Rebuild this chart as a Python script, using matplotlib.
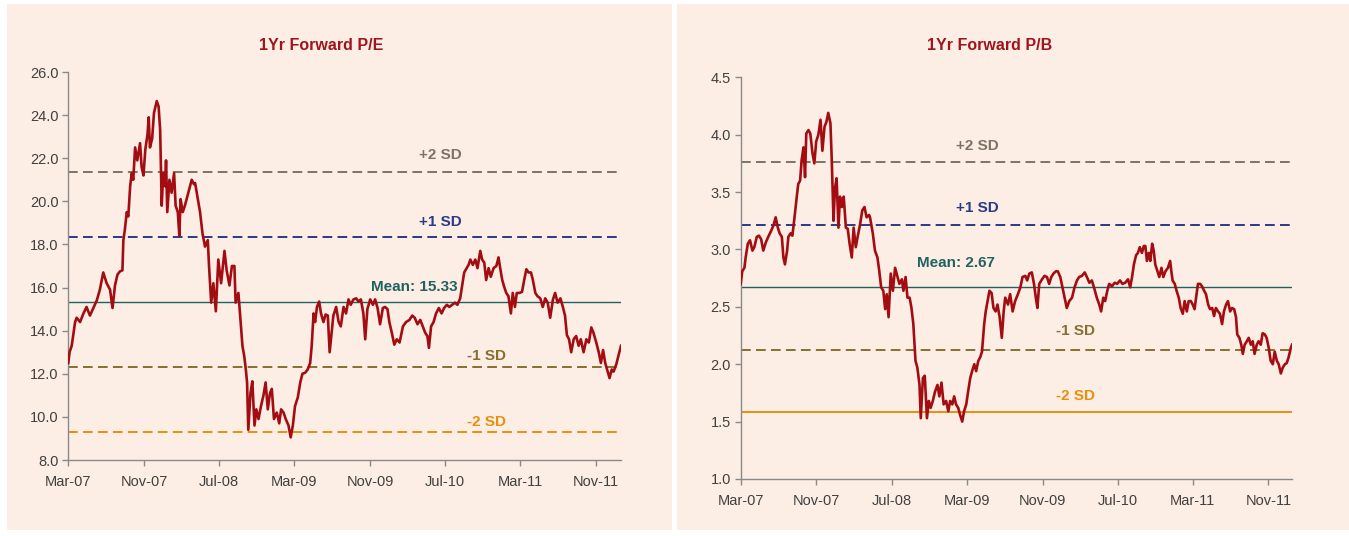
import matplotlib
matplotlib.use('Agg')
import matplotlib.pyplot as plt
import matplotlib.dates as mdates
from matplotlib.patches import Rectangle
import pandas as pd

plt.rcParams['font.family'] = ['Liberation Sans', 'DejaVu Sans']

# days since 1 Mar 2007
pe_days = [0, 4, 11, 22, 27, 38, 49, 59, 70, 81, 92, 102, 113, 124, 135, 143, 151, 159, 167, 175,
           178, 183, 189, 194, 200, 205, 210, 216, 223, 232, 237, 243, 249, 256, 260, 264, 271, 277,
           286, 292, 297, 302, 307, 313, 316, 320, 327, 334, 342, 347, 354, 359, 363, 370, 377, 388,
           399, 406, 410, 419, 426, 434, 442, 451, 455, 462, 469, 477, 485, 494, 505, 512, 521, 529,
           537, 541, 550, 555, 563, 569, 574, 578, 582, 589, 595, 602, 608, 615, 623, 631, 638, 645,
           652, 658, 665, 674, 682, 688, 696, 703, 712, 719, 726, 733, 742, 750, 757, 766, 774, 782,
           787, 793, 798, 804, 811, 817, 825, 832, 839, 845, 857, 866, 874, 881, 890, 898, 906, 913,
           922, 931, 938, 946, 954, 960, 967, 976, 985, 992, 1000, 1008, 1017, 1024, 1032, 1038, 1046,
           1054, 1062, 1071, 1082, 1092, 1103, 1112, 1120, 1129, 1138, 1146, 1154, 1161, 1166, 1173,
           1181, 1189, 1198, 1207, 1215, 1224, 1232, 1241, 1250, 1258, 1267, 1273, 1280, 1286, 1294,
           1300, 1308, 1316, 1323, 1332, 1338, 1345, 1351, 1359, 1366, 1375, 1384, 1391, 1397, 1403,
           1409, 1416, 1423, 1431, 1437, 1444, 1450, 1459, 1467, 1474, 1481, 1488, 1496, 1502, 1510,
           1517, 1526, 1534, 1542, 1550, 1558, 1567, 1574, 1582, 1591, 1599, 1606, 1612, 1619, 1626,
           1634, 1642, 1650, 1657, 1666, 1675, 1683, 1691, 1698, 1707, 1715, 1722, 1729, 1736, 1744,
           1750, 1757, 1763, 1772, 1778, 1787]
pe_values = [12.5, 13.0, 13.3, 14.4, 14.6, 14.4, 14.8, 15.1, 14.7, 15.05, 15.4, 15.9, 16.7, 16.2, 15.9,
             15.05, 16.1, 16.6, 16.75, 16.8, 18.2, 18.7, 19.5, 19.3, 20.7, 21.3, 21.0, 22.5, 21.9, 22.7,
             21.6, 21.2, 22.4, 23.1, 23.9, 22.5, 22.9, 24.1, 24.65, 24.4, 23.3, 19.8, 21.3, 20.7, 21.9,
             19.5, 21.0, 20.4, 21.3, 19.8, 19.5, 18.4, 20.1, 19.5, 19.8, 20.4, 21.0, 20.8, 20.85, 20.1,
             19.5, 18.5, 17.9, 18.2, 17.0, 15.3, 16.2, 14.9, 17.3, 16.2, 17.7, 16.8, 16.1, 17.0, 17.0,
             15.3, 15.75, 14.8, 13.3, 12.8, 12.2, 11.6, 9.4, 11.1, 11.65, 9.6, 10.35, 9.9, 10.5, 11.0,
             11.6, 10.35, 11.1, 11.3, 9.9, 10.2, 9.7, 10.35, 10.2, 9.9, 9.6, 9.05, 9.6, 10.5, 10.9, 11.6,
             12.0, 12.05, 12.2, 12.5, 13.3, 14.8, 14.4, 15.1, 15.35, 14.8, 14.4, 14.75, 14.7, 13.0, 14.7,
             15.1, 14.4, 14.2, 15.1, 14.8, 15.45, 15.2, 15.45, 15.5, 15.35, 15.45, 14.8, 13.6, 15.0,
             15.45, 15.2, 15.45, 15.05, 14.3, 15.05, 15.1, 15.0, 14.4, 13.9, 13.35, 13.6, 13.45, 14.2,
             14.4, 14.5, 14.7, 14.6, 14.3, 14.5, 14.2, 13.9, 13.75, 13.2, 14.2, 14.4, 14.8, 15.05, 14.8,
             15.05, 15.2, 15.1, 15.2, 15.3, 15.2, 15.5, 16.05, 16.7, 16.85, 17.05, 17.3, 17.05, 17.3,
             16.9, 17.7, 17.3, 17.15, 16.35, 16.9, 16.5, 16.9, 17.0, 17.4, 16.85, 16.35, 16.05, 15.75,
             15.6, 14.8, 15.75, 15.1, 15.75, 15.75, 15.8, 16.35, 16.85, 16.7, 16.7, 16.35, 15.75, 15.6,
             15.5, 15.1, 15.5, 15.3, 14.6, 15.45, 15.75, 15.3, 15.5, 15.1, 14.7, 13.8, 13.6, 13.0, 13.6,
             13.75, 13.3, 13.6, 13.0, 13.6, 13.45, 14.15, 13.9, 13.45, 13.0, 12.5, 13.1, 12.5, 12.1,
             11.8, 12.2, 12.1, 12.45, 12.8, 13.3]

pb_days = [0, 5, 12, 16, 23, 30, 38, 44, 52, 59, 66, 73, 81, 89, 98, 106, 113, 120, 126, 133, 138,
           143, 150, 154, 161, 167, 174, 180, 186, 192, 197, 203, 208, 212, 219, 225, 232, 238, 244,
           251, 258, 264, 271, 277, 283, 290, 294, 300, 305, 310, 316, 321, 327, 333, 340, 346, 352,
           359, 365, 372, 378, 386, 393, 400, 407, 415, 418, 427, 434, 442, 448, 454, 461, 467, 472,
           478, 485, 492, 499, 507, 513, 521, 526, 533, 539, 546, 552, 558, 565, 571, 578, 582, 589,
           595, 602, 608, 614, 621, 628, 636, 642, 649, 656, 664, 671, 677, 684, 690, 696, 703, 709,
           716, 722, 729, 735, 742, 748, 755, 761, 768, 774, 780, 787, 792, 798, 804, 811, 817, 824,
           830, 837, 844, 850, 855, 864, 871, 879, 887, 896, 904, 911, 920, 926, 933, 941, 948, 954,
           959, 965, 974, 982, 990, 997, 1004, 1011, 1019, 1025, 1033, 1040, 1047, 1054, 1062, 1071,
           1079, 1087, 1094, 1103, 1112, 1119, 1127, 1135, 1144, 1151, 1159, 1165, 1172, 1178, 1185,
           1191, 1200, 1209, 1217, 1226, 1234, 1243, 1252, 1259, 1265, 1271, 1278, 1284, 1290, 1297,
           1303, 1308, 1313, 1319, 1324, 1330, 1335, 1340, 1347, 1353, 1360, 1366, 1373, 1381, 1388,
           1392, 1396, 1403, 1409, 1416, 1422, 1429, 1435, 1442, 1448, 1455, 1461, 1467, 1472, 1478,
           1485, 1491, 1498, 1504, 1511, 1517, 1524, 1530, 1536, 1543, 1549, 1556, 1562, 1569, 1575,
           1582, 1588, 1595, 1601, 1605, 1612, 1618, 1623, 1629, 1636, 1642, 1649, 1655, 1661, 1668,
           1674, 1681, 1687, 1694, 1700, 1707, 1713, 1720, 1726, 1733, 1739, 1746, 1752, 1759, 1765,
           1771, 1778, 1782]
pb_values = [2.70, 2.81, 2.84, 2.93, 3.05, 3.08, 2.99, 3.02, 3.11, 3.12, 3.09, 2.99, 3.06, 3.11, 3.16,
             3.21, 3.28, 3.19, 3.14, 3.11, 2.93, 2.87, 2.99, 3.11, 3.14, 3.12, 3.28, 3.43, 3.57, 3.60,
             3.78, 3.89, 3.63, 4.01, 4.04, 4.01, 3.84, 3.75, 3.94, 4.00, 4.13, 3.86, 4.07, 4.11, 4.19,
             4.10, 3.81, 3.25, 3.54, 3.62, 3.19, 3.46, 3.37, 3.46, 3.19, 3.18, 3.05, 2.93, 3.19, 3.02,
             3.11, 3.22, 3.34, 3.37, 3.28, 3.30, 3.28, 3.14, 2.99, 2.93, 2.81, 2.67, 2.64, 2.48, 2.61,
             2.41, 2.79, 2.64, 2.84, 2.76, 2.70, 2.74, 2.64, 2.76, 2.58, 2.58, 2.49, 2.35, 2.03, 1.97,
             1.82, 1.53, 1.88, 1.90, 1.53, 1.68, 1.62, 1.68, 1.76, 1.82, 1.72, 1.84, 1.65, 1.68, 1.59,
             1.68, 1.65, 1.72, 1.65, 1.62, 1.56, 1.50, 1.59, 1.65, 1.76, 1.88, 1.94, 2.00, 1.94, 2.03,
             2.06, 2.11, 2.35, 2.46, 2.55, 2.64, 2.62, 2.49, 2.46, 2.52, 2.41, 2.23, 2.46, 2.58, 2.52,
             2.61, 2.46, 2.55, 2.61, 2.67, 2.76, 2.77, 2.73, 2.79, 2.80, 2.70, 2.58, 2.49, 2.70, 2.74,
             2.77, 2.76, 2.70, 2.76, 2.79, 2.81, 2.81, 2.76, 2.67, 2.58, 2.49, 2.55, 2.58, 2.67, 2.73,
             2.76, 2.77, 2.80, 2.76, 2.71, 2.73, 2.65, 2.58, 2.52, 2.46, 2.58, 2.55, 2.64, 2.70, 2.68,
             2.71, 2.70, 2.73, 2.70, 2.71, 2.74, 2.67, 2.76, 2.87, 2.95, 2.97, 3.02, 2.97, 3.03, 3.03,
             2.90, 2.97, 2.90, 3.05, 2.99, 2.87, 2.81, 2.76, 2.84, 2.76, 2.81, 2.84, 2.90, 2.81, 2.73,
             2.70, 2.64, 2.58, 2.49, 2.44, 2.55, 2.46, 2.55, 2.55, 2.52, 2.48, 2.58, 2.70, 2.70, 2.68,
             2.64, 2.61, 2.52, 2.48, 2.49, 2.42, 2.49, 2.46, 2.44, 2.35, 2.46, 2.52, 2.55, 2.46, 2.49,
             2.48, 2.41, 2.26, 2.23, 2.17, 2.09, 2.17, 2.20, 2.23, 2.17, 2.20, 2.09, 2.17, 2.20, 2.17,
             2.27, 2.26, 2.23, 2.14, 2.03, 2.00, 2.11, 2.03, 2.00, 1.92, 1.97, 2.00, 2.01, 2.06, 2.14,
             2.17]

band_labels = ['+2 SD', '+1 SD', 'Mean', '-1 SD', '-2 SD']
pe_mean = 15.33
pe_levels = [21.37, 18.35, 15.33, 12.31, 9.29]
pb_mean = 2.67
pb_levels = [3.76, 3.215, 2.67, 2.125, 1.58]

start = pd.Timestamp('2007-03-01')
tick_dates = pd.date_range('2007-03-01', periods=8, freq='8MS')

bg = '#FCEEE5'
line_red = '#A30D12'
band_colors = ['#7C7463', '#2B3A86', '#21625E', '#86702E', '#E8900E']
W, H = 1349, 536

fig = plt.figure(figsize=(W / 100, H / 100), dpi=100)
fig.patch.set_facecolor('white')
fig.patches.append(Rectangle((7 / W, 6 / H), 665 / W, 526 / H, transform=fig.transFigure,
                             facecolor=bg, edgecolor='none', zorder=-5))
fig.patches.append(Rectangle((677 / W, 6 / H), 672 / W, 526 / H, transform=fig.transFigure,
                             facecolor=bg, edgecolor='none', zorder=-5))


def draw_panel(rect, days, values, levels, mean, ylim, yticks, title, title_x, lab_pos, solid_last):
    ax = fig.add_axes(rect)
    ax.set_facecolor('none')
    dates = start + pd.to_timedelta(days, unit='D')
    for i, lev in enumerate(levels):
        if i == 2:
            ax.axhline(lev, color=band_colors[i], lw=1.0, zorder=1)
        elif i == 4 and solid_last:
            ax.axhline(lev, color=band_colors[i], lw=1.4, zorder=1)
        else:
            ax.axhline(lev, color=band_colors[i], lw=1.4, dashes=(5, 2.7), zorder=1)
    ax.plot(dates, values, color=line_red, lw=1.9, zorder=3)
    for i, (lx, ly) in enumerate(lab_pos):
        txt = 'Mean: %.2f' % mean if i == 2 else band_labels[i]
        ax.text(start + pd.Timedelta(days=lx), ly, txt, color=band_colors[i], fontsize=11,
                fontweight='bold', ha='center', va='center', zorder=4)
    ax.set_xlim(dates[0], dates[-1])
    ax.set_ylim(*ylim)
    ax.set_yticks(yticks)
    ax.yaxis.set_major_formatter(plt.FormatStrFormatter('%.1f'))
    ax.set_xticks(tick_dates)
    ax.xaxis.set_major_formatter(mdates.DateFormatter('%b-%y'))
    for s in ['top', 'right']:
        ax.spines[s].set_visible(False)
    for s in ['left', 'bottom']:
        ax.spines[s].set_color('#8A8A8A')
        ax.spines[s].set_linewidth(1.0)
    ax.tick_params(axis='both', direction='out', length=4, width=1, color='#8A8A8A',
                   labelsize=10.5, labelcolor='#404040')
    ax.tick_params(axis='x', pad=7)
    ax.tick_params(axis='y', pad=3)
    fig.text(title_x, 1 - 46 / H, title, color='#A0141B', fontsize=11.5, fontweight='bold',
             ha='center', va='center')
    return ax


draw_panel([68.3 / W, 76 / H, 552.7 / W, 388 / H], pe_days, pe_values, pe_levels, pe_mean,
           (8, 26), [8, 10, 12, 14, 16, 18, 20, 22, 24, 26], '1Yr Forward P/E', 321 / W,
           [(1202, 22.15), (1202, 19.04), (1118, 16.03), (1351, 12.84), (1351, 9.78)], False)

draw_panel([740.7 / W, 57 / H, 551.3 / W, 401.7 / H], pb_days, pb_values, pb_levels, pb_mean,
           (1.0, 4.5), [1.0, 1.5, 2.0, 2.5, 3.0, 3.5, 4.0, 4.5], '1Yr Forward P/B', 990 / W,
           [(764, 3.90), (764, 3.36), (696, 2.88), (1081, 2.29), (1081, 1.72)], True)

fig.savefig('out.png', dpi=100, facecolor=fig.get_facecolor())
